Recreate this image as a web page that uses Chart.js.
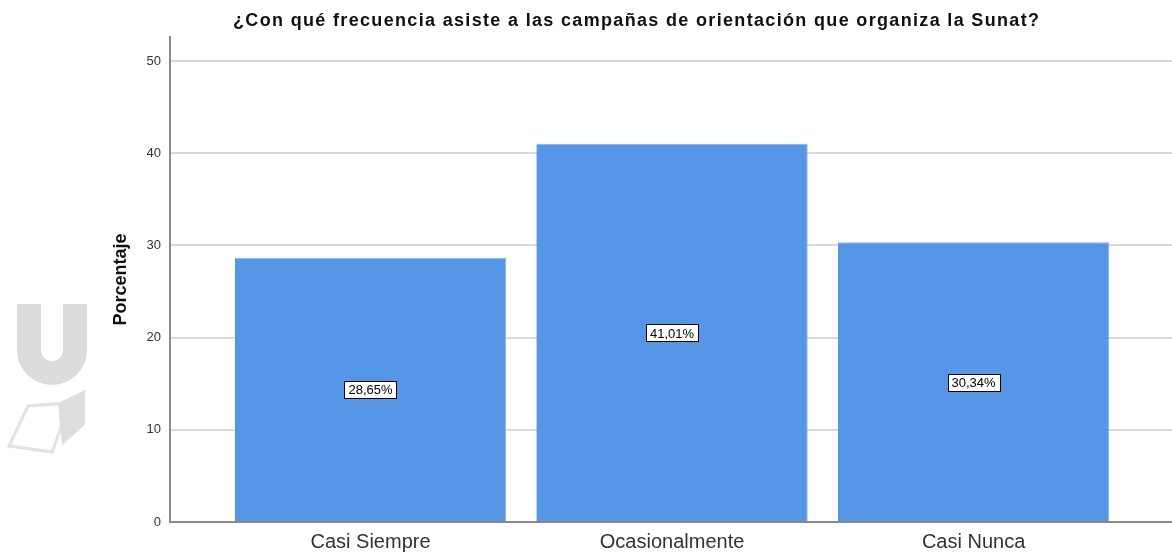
<!DOCTYPE html>
<html>
<head>
<meta charset="utf-8">
<script src="https://cdn.jsdelivr.net/npm/chart.js@4.4.1/dist/chart.umd.min.js"></script>
<style>
  html, body { margin: 0; padding: 0; background: #fff; }
  #wrap { width: 1172px; height: 552px; position: relative; }
</style>
</head>
<body>
<div id="wrap"><canvas id="c" width="1172" height="552"></canvas></div>
<script>
const chartTitle = '¿Con qué frecuencia asiste a las campañas de orientación que organiza la Sunat?';
const yAxisTitle = 'Porcentaje';
const categories = ['Casi Siempre', 'Ocasionalmente', 'Casi Nunca'];
const values = [28.65, 41.01, 30.34];
const yTicks = [0, 10, 20, 30, 40, 50];

const FONT = "Arial, 'Liberation Sans', sans-serif";

const points = values.map((v, i) => ({ x: i + 1, y: v }));

const titlePlugin = {
  id: 'customTitle',
  afterDraw(chart) {
    const ctx = chart.ctx;
    ctx.save();
    ctx.font = 'bold 18px ' + FONT;
    ctx.fillStyle = '#111';
    ctx.textAlign = 'center';
    ctx.textBaseline = 'middle';
    const w = ctx.measureText(chartTitle).width;
    const target = 807;
    const ls = Math.max(0, (target - w) / chartTitle.length);
    ctx.letterSpacing = ls.toFixed(2) + 'px';
    ctx.fillText(chartTitle, 636 + ls / 2, 21);
    ctx.restore();
  }
};

const watermarkPlugin = {
  id: 'watermark',
  beforeDraw(chart) {
    const ctx = chart.ctx;
    ctx.save();
    ctx.strokeStyle = '#dcdcdc';
    ctx.lineWidth = 24;
    ctx.beginPath();
    ctx.moveTo(29, 304);
    ctx.lineTo(29, 350);
    ctx.arc(52, 350, 23, Math.PI, 0, true);
    ctx.lineTo(75, 304);
    ctx.stroke();
    ctx.strokeStyle = '#e2e2e2';
    ctx.lineWidth = 3;
    ctx.beginPath();
    ctx.moveTo(28, 406);
    ctx.lineTo(70, 403);
    ctx.lineTo(52, 452);
    ctx.lineTo(9, 446);
    ctx.closePath();
    ctx.stroke();
    ctx.fillStyle = '#dedede';
    ctx.beginPath();
    ctx.moveTo(58, 403);
    ctx.lineTo(85, 390);
    ctx.lineTo(85, 425);
    ctx.lineTo(62, 445);
    ctx.closePath();
    ctx.fill();
    ctx.restore();
  }
};

const labelPlugin = {
  id: 'barLabels',
  afterDatasetsDraw(chart) {
    const ctx = chart.ctx;
    const meta = chart.getDatasetMeta(0);
    const yScale = chart.scales.y;
    ctx.save();
    ctx.font = '13px ' + FONT;
    ctx.textAlign = 'center';
    ctx.textBaseline = 'middle';
    meta.data.forEach((bar, i) => {
      const txt = values[i].toFixed(2).replace('.', ',') + '%';
      const cx = bar.x;
      const cy = yScale.getPixelForValue(values[i] / 2);
      const w = ctx.measureText(txt).width + 8;
      const h = 17;
      ctx.fillStyle = '#fff';
      ctx.fillRect(Math.round(cx - w / 2) + 0.5, Math.round(cy - h / 2) + 0.5, Math.round(w), h);
      ctx.strokeStyle = '#000';
      ctx.lineWidth = 1;
      ctx.strokeRect(Math.round(cx - w / 2) + 0.5, Math.round(cy - h / 2) + 0.5, Math.round(w), h);
      ctx.fillStyle = '#000';
      ctx.fillText(txt, cx, cy + 1);
    });
    ctx.restore();
  }
};

new Chart(document.getElementById('c'), {
  type: 'bar',
  data: {
    datasets: [{
      data: points,
      backgroundColor: '#5596e6',
      borderColor: '#86b4ee',
      borderWidth: { top: 1, right: 1, left: 0, bottom: 0 },
      barPercentage: 0.9,
      categoryPercentage: 1.0
    }]
  },
  options: {
    responsive: false,
    animation: false,
    layout: { padding: { top: 37, right: 0, bottom: 0, left: 0 } },
    plugins: {
      legend: { display: false },
      tooltip: { enabled: false },
      title: { display: false }
    },
    scales: {
      x: {
        type: 'linear',
        offset: false,
        min: 0.335,
        max: 3.658,
        afterBuildTicks(axis) { axis.ticks = categories.map((c, i) => ({ value: i + 1 })); },
        afterFit(axis) { axis.height = 30; },
        grid: { display: false, drawTicks: false, offset: false },
        border: { display: true, color: '#8a8a8a', width: 2 },
        ticks: {
          padding: 8,
          autoSkip: false,
          maxRotation: 0,
          color: '#333',
          font: { family: FONT, size: 20 },
          callback: (v) => categories[v - 1] || ''
        }
      },
      y: {
        min: 0,
        max: 52.6,
        afterBuildTicks(axis) { axis.ticks = yTicks.map(v => ({ value: v })); },
        afterFit(axis) { axis.width = 170; },
        grid: { color: '#d9d9d9', lineWidth: 2, drawTicks: false },
        border: { display: true, color: '#8a8a8a', width: 2 },
        ticks: {
          padding: 9,
          color: '#333',
          font: { family: FONT, size: 13 }
        },
        title: {
          display: true,
          text: yAxisTitle,
          color: '#111',
          font: { family: FONT, size: 18, weight: 'bold' },
          padding: { top: 110, bottom: 0 }
        }
      }
    }
  },
  plugins: [watermarkPlugin, labelPlugin, titlePlugin]
});
</script>
</body>
</html>
